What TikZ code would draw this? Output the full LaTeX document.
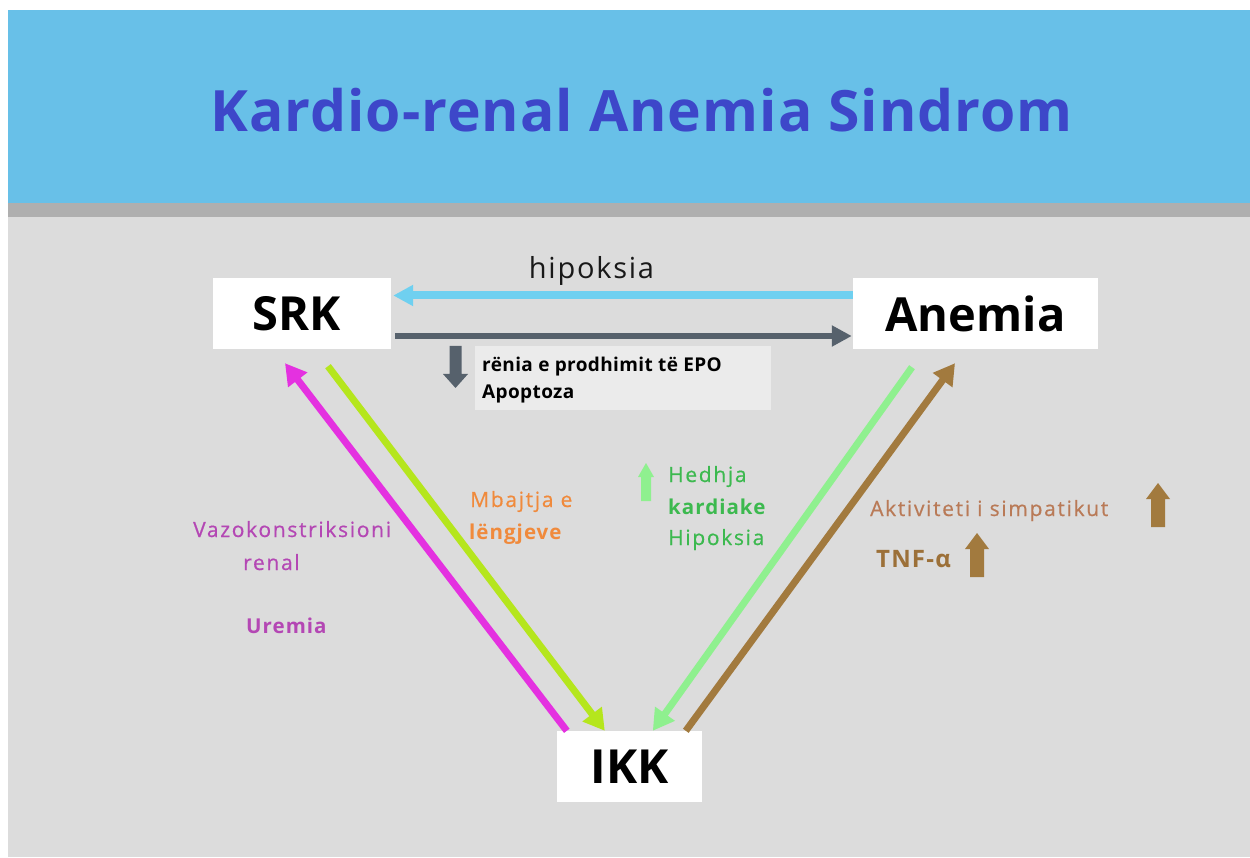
\documentclass[tikz,border=0pt]{standalone}
\usepackage{fontspec}
\setmainfont{Open Sans}
\newfontfamily\lblfont[LetterSpace=8,FakeBold=0.6]{Open Sans}
\newfontfamily\lblbfont[LetterSpace=5]{Open Sans}
\newfontfamily\epofont[LetterSpace=2]{Open Sans}
\newfontfamily\hipofont[LetterSpace=6]{Open Sans}
\newfontfamily\titlefont[LetterSpace=1.8]{Open Sans}
\usetikzlibrary{arrows.meta,calc}
\definecolor{hdr}{HTML}{68C0E8}
\definecolor{strip}{HTML}{AFAFAF}
\definecolor{bodybg}{HTML}{DCDCDC}
\definecolor{titlec}{HTML}{3D47C9}
\definecolor{epobg}{HTML}{EBEBEB}
\definecolor{hipoc}{HTML}{6FD0F0}
\definecolor{darkg}{HTML}{56616C}
\definecolor{magc}{HTML}{E431E0}
\definecolor{limec}{HTML}{B5E61D}
\definecolor{lgreen}{HTML}{8FF08F}
\definecolor{brownc}{HTML}{A27A3E}
\definecolor{purpc}{HTML}{B447B4}
\definecolor{orangec}{HTML}{F08A3C}
\definecolor{greenc}{HTML}{3CB94F}
\definecolor{aktc}{HTML}{B97A57}
\definecolor{tnfc}{HTML}{9C7038}
\begin{document}
\begin{tikzpicture}[x=1pt,y=-1pt,
  box/.style={fill=white, inner sep=0pt, font=\fontsize{47}{50}\selectfont\bfseries, text=black},
  conn/.style={line width=7pt, -{Triangle[length=21pt,width=23pt]}},
  lbl/.style={anchor=base west, inner sep=0pt, font=\lblfont\fontsize{21}{24}\selectfont},
  lblb/.style={anchor=base west, inner sep=0pt, font=\lblbfont\fontsize{20.5}{24}\selectfont\bfseries}]
\useasboundingbox (0,0) rectangle (1250,858);
\fill[white] (0,0) rectangle (1250,858);
\fill[hdr] (8,10) rectangle (1250,203);
\fill[strip] (8,203) rectangle (1250,217);
\fill[bodybg] (8,217) rectangle (1250,857);

\node[anchor=base west, inner sep=0pt, text=titlec, font=\titlefont\fontsize{57}{60}\selectfont\bfseries] (title) at (210,132) {Kardio-renal Anemia Sindrom};

\node[box, minimum width=178pt, minimum height=71pt] (srk) at (302,314) {\hspace*{-10pt}SRK};
\node[box, minimum width=245pt, minimum height=71pt] (anemia) at (975.5,314) {Anemia};
\node[box, minimum width=145pt, minimum height=71pt] (ikk) at (629.5,766.5) {\raisebox{-6pt}{IKK}};

% horizontal arrows
\draw[hipoc, line width=8pt, -{Triangle[length=20pt,width=20pt]}] ([yshift=18.5pt]anemia.west) -- ([xshift=2pt,yshift=18.5pt]srk.east);
\node[anchor=base, inner sep=0pt, font=\hipofont\fontsize{29}{32}\selectfont, text=black!90] (hipo) at (591.5,279) {hipoksia};
\draw[darkg, line width=6.5pt, -{Triangle[length=20pt,width=20pt]}] ([xshift=4pt,yshift=-22pt]srk.east) -- ([xshift=-1pt,yshift=-22pt]anemia.west);

% EPO box
\node[fill=epobg, minimum width=296pt, minimum height=64pt, inner sep=0pt, anchor=north west] (epobox) at (475,346) {};
\node[anchor=base west, inner sep=0pt, font=\epofont\fontsize{19}{22}\selectfont\bfseries] (epo1) at (482,372) {rënia e prodhimit të EPO};
\node[anchor=base west, inner sep=0pt, font=\epofont\fontsize{19}{22}\selectfont\bfseries] (epo2) at (482,399) {Apoptoza};
\fill[darkg] (449.5,346) -- (461.5,346) -- (461.5,374) -- (468,374) -- (455.5,388) -- (443,374) -- (449.5,374) -- cycle;

% diagonal arrows
\draw[conn, magc] ([xshift=10pt]ikk.north west) -- ([xshift=-17pt,yshift=-13.5pt]srk.south);
\draw[conn, limec] ([xshift=26pt,yshift=-16.5pt]srk.south) -- ([xshift=48pt]ikk.north west);
\draw[conn, lgreen] ([xshift=-63.5pt,yshift=-17.5pt]anemia.south) -- ([xshift=96pt]ikk.north west);
\draw[conn, brownc] ([xshift=129pt]ikk.north west) -- ([xshift=-20.5pt,yshift=-13.5pt]anemia.south);

% left labels
\node[lbl, text=purpc] (vazo) at (193,537) {Vazokonstriksioni};
\node[lbl, text=purpc] (renal) at (243,570) {renal};
\node[lblb, text=purpc] (urem) at (246,633) {Uremia};
\node[lbl, text=orangec] (mbaj) at (470,507) {Mbajtja e};
\node[lblb, text=orangec] (leng) at (469,539) {lëngjeve};

% right labels
\fill[lgreen] (641,501) -- (641,477) -- (638,477) -- (646,463) -- (654,477) -- (651,477) -- (651,501) -- cycle;
\node[lbl, text=greenc] (hedh) at (668,482) {Hedhja};
\node[lblb, text=greenc] (kard) at (668,514) {kardiake};
\node[lbl, text=greenc] (hipk) at (668,545) {Hipoksia};
\node[lbl, text=aktc] (akt) at (870,516) {Aktiviteti i simpatikut};
\node[lblb, text=tnfc, font=\lblbfont\fontsize{24}{26}\selectfont\bfseries] (tnf) at (876,567) {TNF-α};
\fill[brownc] (1151,527) -- (1151,499) -- (1146,499) -- (1158,483) -- (1170,499) -- (1165,499) -- (1165,527) -- cycle;
\fill[brownc] (970,577) -- (970,549) -- (965,549) -- (977,533) -- (989,549) -- (984,549) -- (984,577) -- cycle;
\end{tikzpicture}
\end{document}
